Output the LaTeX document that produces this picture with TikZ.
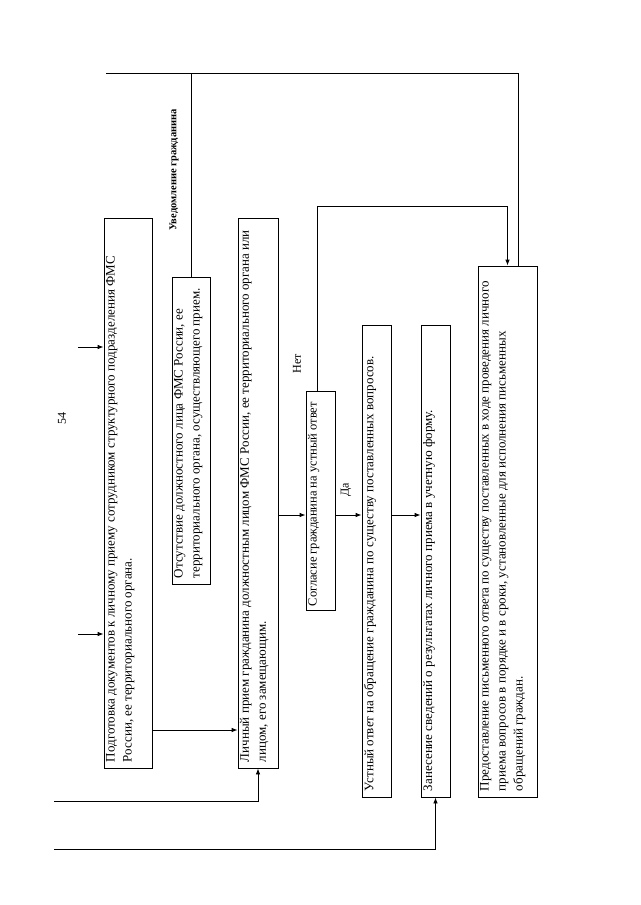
\documentclass[tikz,border=0pt]{standalone}
\usepackage{fontspec}
\setmainfont{Liberation Serif}
\usetikzlibrary{arrows.meta}
\begin{document}
\begin{tikzpicture}[x=1pt,y=-1pt,
 boxst/.style={draw, line width=0.8pt, rotate=90, inner xsep=6pt, inner ysep=2pt, font=\fontsize{13}{17}\selectfont},
 conn/.style={line width=0.8pt},
 arr/.style={conn, -{Latex[length=6pt,width=4.5pt]}},
 lbl/.style={rotate=90, inner sep=0pt}]
\useasboundingbox (0,0) rectangle (640,905);

\node[boxst] (B1) at (128,493) {\parbox[c][44pt][t]{538pt}{\raggedright Подготовка документов к личному приему сотрудником структурного подразделения ФМС России, ее территориального органа.}};
\node[boxst] (B2) at (191,430.5) {\parbox[c][34pt][t]{295pt}{\raggedright Отсутствие должностного лица ФМС России, ее территориального органа, осуществляющего прием.}};
\node[boxst] (B3) at (258,493) {\parbox[c][36pt][t]{538pt}{\raggedright Личный прием гражданина должностным лицом ФМС России, ее территориального органа или лицом, его замещающим.}};
\node[boxst, inner xsep=4pt, font=\fontsize{12.5}{15}\selectfont] (B4) at (320.5,500.5) {\parbox[c][25pt][t]{211pt}{\raggedright Согласие гражданина на устный ответ}};
\node[boxst] (B5) at (376.5,561) {\parbox[c][25pt][t]{460pt}{\raggedright Устный ответ на обращение гражданина по существу поставленных вопросов.}};
\node[boxst] (B6) at (435.5,561) {\parbox[c][25pt][t]{460pt}{\raggedright Занесение сведений о результатах личного приема в учетную форму.}};
\node[boxst] (B7) at (507.5,531.5) {\parbox[c][55pt][t]{519pt}{\raggedright Предоставление письменного ответа по существу поставленных в ходе проведения личного приема вопросов в порядке и в сроки, установленные для исполнения письменных обращений граждан.}};

\coordinate (tl) at (106,73);
\coordinate (a1) at (78,347);
\coordinate (a2) at (78,634);
\coordinate (bl1) at (54,801);
\coordinate (bl2) at (54,849);

% top line
\draw[conn] (tl) -| ([xshift=10.5pt]B7.east);
\coordinate (jn) at (B2.east |- tl);
\draw[conn] (jn) -- (B2.east);
\node[lbl, font=\bfseries\fontsize{10.5}{12}\selectfont] (uv) at (174,170) {Уведомление гражданина};

% inputs to B1
\draw[arr] (a1) -- (a1 -| B1.north);
\draw[arr] (a2) -- (a2 -| B1.north);
% B1 -> B3
\draw[arr] (B1.south |- 0,730) -- (B3.north |- 0,730);
% bottom inputs
\draw[arr] (bl1) -| (B3.west);
\draw[arr] (bl2) -| (B6.west);
% middle chain
\draw[arr] (B3.south |- 0,515) -- (B4.north |- 0,515);
\draw[arr] (B4.south |- 0,515) -- (B5.north |- 0,515);
\draw[arr] (B5.south |- 0,515) -- (B6.north |- 0,515);
\node[lbl, font=\fontsize{12}{14}\selectfont] (da) at (346,490) {Да};
% no branch
\draw[arr] ([xshift=-3.5pt]B4.east) |- ([yshift=59pt]B7.east) -- (B7.east);
\node[lbl, font=\fontsize{12}{14}\selectfont] (net) at (297,364) {Нет};
% page number
\node[lbl, font=\fontsize{12}{14}\selectfont] (pg) at (62,418) {54};
\end{tikzpicture}
\end{document}
